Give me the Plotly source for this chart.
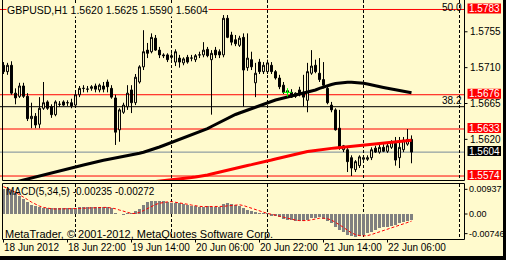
import plotly.graph_objects as go

W, H = 506, 260
BG = "#FFFACD"
FONT = "Liberation Sans, Arial, sans-serif"

# ---------------- data ----------------
bar = list(range(103))  # hourly bars from 18 Jun 2012 06:00
open_ = [1.5713, 1.5705, 1.5713, 1.5678, 1.5674, 1.5687, 1.5674, 1.5646, 1.5649, 1.5639,
         1.5659, 1.5667, 1.5661, 1.5651, 1.5664, 1.5667, 1.5666, 1.5666, 1.5663, 1.5676,
         1.5684, 1.5683, 1.5684, 1.5687, 1.5682, 1.5687, 1.5692, 1.5684, 1.5672, 1.5632,
         1.5654, 1.5661, 1.5682, 1.5666, 1.5692, 1.5711, 1.5732, 1.5730, 1.5747, 1.5732,
         1.5726, 1.5726, 1.5725, 1.5717, 1.5722, 1.5716, 1.5723, 1.5722, 1.5720, 1.5726,
         1.5726, 1.5733, 1.5720, 1.5732, 1.5730, 1.5726, 1.5772, 1.5751, 1.5745, 1.5738,
         1.5748, 1.5710, 1.5720, 1.5691, 1.5717, 1.5705, 1.5705, 1.5713, 1.5705, 1.5697,
         1.5688, 1.5679, 1.5679, 1.5674, 1.5682, 1.5679, 1.5669, 1.5703, 1.5713, 1.5703,
         1.5695, 1.5684, 1.5663, 1.5657, 1.5634, 1.5607, 1.5607, 1.5597, 1.5582, 1.5587,
         1.5595, 1.5595, 1.5597, 1.5609, 1.5604, 1.5610, 1.5605, 1.5610, 1.5615, 1.5597,
         1.5607, 1.5614, 1.5620]
high = [1.5717, 1.5716, 1.5718, 1.5684, 1.5691, 1.5691, 1.5678, 1.5666, 1.5653, 1.5673,
        1.5692, 1.5669, 1.5664, 1.5669, 1.5668, 1.5669, 1.5669, 1.5671, 1.5679, 1.5687,
        1.5688, 1.5687, 1.5688, 1.5690, 1.5690, 1.5692, 1.5695, 1.5688, 1.5676, 1.5659,
        1.5666, 1.5688, 1.5688, 1.5702, 1.5713, 1.5757, 1.5741, 1.5753, 1.5751, 1.5736,
        1.5728, 1.5728, 1.5728, 1.5733, 1.5726, 1.5723, 1.5726, 1.5726, 1.5727, 1.5730,
        1.5742, 1.5736, 1.5732, 1.5736, 1.5733, 1.5776, 1.5776, 1.5755, 1.5751, 1.5750,
        1.5753, 1.5753, 1.5730, 1.5716, 1.5721, 1.5717, 1.5720, 1.5717, 1.5707, 1.5701,
        1.5692, 1.5683, 1.5683, 1.5679, 1.5686, 1.5701, 1.5716, 1.5732, 1.5720, 1.5722,
        1.5717, 1.5687, 1.5667, 1.5659, 1.5657, 1.5613, 1.5609, 1.5600, 1.5594, 1.5600,
        1.5600, 1.5600, 1.5610, 1.5612, 1.5613, 1.5614, 1.5615, 1.5619, 1.5623, 1.5623,
        1.5623, 1.5633, 1.5625]
low = [1.5702, 1.5701, 1.5676, 1.5664, 1.5672, 1.5672, 1.5643, 1.5634, 1.5634, 1.5634,
       1.5657, 1.5657, 1.5647, 1.5649, 1.5661, 1.5662, 1.5662, 1.5659, 1.5662, 1.5673,
       1.5679, 1.5679, 1.5681, 1.5679, 1.5679, 1.5679, 1.5679, 1.5671, 1.5613, 1.5617,
       1.5652, 1.5657, 1.5653, 1.5663, 1.5690, 1.5707, 1.5722, 1.5728, 1.5731, 1.5722,
       1.5722, 1.5717, 1.5720, 1.5712, 1.5710, 1.5713, 1.5715, 1.5718, 1.5717, 1.5722,
       1.5723, 1.5723, 1.5651, 1.5722, 1.5722, 1.5723, 1.5747, 1.5738, 1.5737, 1.5736,
       1.5661, 1.5706, 1.5707, 1.5673, 1.5702, 1.5702, 1.5702, 1.5702, 1.5695, 1.5683,
       1.5677, 1.5676, 1.5672, 1.5672, 1.5674, 1.5661, 1.5654, 1.5701, 1.5703, 1.5692,
       1.5684, 1.5664, 1.5654, 1.5631, 1.5607, 1.5604, 1.5579, 1.5574, 1.5579, 1.5584,
       1.5593, 1.5593, 1.5594, 1.5603, 1.5602, 1.5604, 1.5603, 1.5608, 1.5587, 1.5584,
       1.5604, 1.5612, 1.5590]
close = [1.5705, 1.5713, 1.5678, 1.5672, 1.5687, 1.5674, 1.5646, 1.5649, 1.5638, 1.5659,
         1.5666, 1.5659, 1.5651, 1.5667, 1.5664, 1.5663, 1.5666, 1.5662, 1.5676, 1.5684,
         1.5684, 1.5683, 1.5686, 1.5683, 1.5688, 1.5683, 1.5686, 1.5673, 1.5629, 1.5657,
         1.5663, 1.5678, 1.5666, 1.5698, 1.5711, 1.5730, 1.5728, 1.5748, 1.5732, 1.5726,
         1.5725, 1.5720, 1.5723, 1.5730, 1.5717, 1.5721, 1.5717, 1.5722, 1.5725, 1.5726,
         1.5732, 1.5725, 1.5728, 1.5726, 1.5726, 1.5772, 1.5748, 1.5742, 1.5740, 1.5747,
         1.5707, 1.5722, 1.5711, 1.5703, 1.5705, 1.5713, 1.5716, 1.5705, 1.5697, 1.5686,
         1.5679, 1.5681, 1.5673, 1.5678, 1.5676, 1.5673, 1.5705, 1.5712, 1.5705, 1.5695,
         1.5688, 1.5666, 1.5657, 1.5632, 1.5609, 1.5612, 1.5592, 1.5584, 1.5592, 1.5598,
         1.5597, 1.5597, 1.5607, 1.5604, 1.5610, 1.5605, 1.5612, 1.5617, 1.5594, 1.5610,
         1.5619, 1.5620, 1.5604]

ma_black = [1.55627, 1.55640, 1.55652, 1.55665, 1.55677, 1.55690, 1.55703, 1.55715, 1.55728, 1.55740,
            1.55753, 1.55765, 1.55778, 1.55790, 1.55803, 1.55816, 1.55828, 1.55841, 1.55853, 1.55866,
            1.55878, 1.55891, 1.55903, 1.55916, 1.55929, 1.55937, 1.55946, 1.55955, 1.55964, 1.55973,
            1.55981, 1.55991, 1.56001, 1.56014, 1.56026, 1.56039, 1.56054, 1.56067, 1.56085, 1.56104,
            1.56123, 1.56142, 1.56161, 1.56179, 1.56198, 1.56217, 1.56236, 1.56255, 1.56274, 1.56293,
            1.56311, 1.56336, 1.56361, 1.56387, 1.56412, 1.56437, 1.56462, 1.56487, 1.56512, 1.56531,
            1.56550, 1.56569, 1.56588, 1.56606, 1.56625, 1.56644, 1.56656, 1.56675, 1.56694, 1.56707,
            1.56719, 1.56732, 1.56744, 1.56757, 1.56770, 1.56782, 1.56795, 1.56807, 1.56820, 1.56839,
            1.56857, 1.56876, 1.56889, 1.56901, 1.56908, 1.56914, 1.56916, 1.56916, 1.56914, 1.56908,
            1.56904, 1.56895, 1.56882, 1.56870, 1.56861, 1.56851, 1.56841, 1.56830, 1.56820, 1.56810,
            1.56801, 1.56792, 1.56785]
ma_red_first_bar = 30
ma_red = [1.55627, 1.55632, 1.55637, 1.55642, 1.55647, 1.55652, 1.55657, 1.55662, 1.55667, 1.55672,
          1.55677, 1.55683, 1.55688, 1.55695, 1.55701, 1.55708, 1.55714, 1.55720, 1.55727, 1.55733,
          1.55740, 1.55753, 1.55765, 1.55778, 1.55790, 1.55803, 1.55816, 1.55828, 1.55841, 1.55853,
          1.55863, 1.55873, 1.55883, 1.55893, 1.55903, 1.55916, 1.55929, 1.55941, 1.55954, 1.55966,
          1.55979, 1.55991, 1.56004, 1.56017, 1.56029, 1.56038, 1.56047, 1.56054, 1.56062, 1.56068,
          1.56074, 1.56080, 1.56087, 1.56092, 1.56097, 1.56102, 1.56107, 1.56110, 1.56114, 1.56118,
          1.56122, 1.56127, 1.56132, 1.56137, 1.56142, 1.56147, 1.56152, 1.56158, 1.56164, 1.56171,
          1.56177, 1.56183, 1.56188]

macd_hist = [0.0095, 0.0095, 0.0091, 0.0079, 0.0070, 0.0057, 0.0045, 0.0036, 0.0030, 0.0026,
             0.0024, 0.0023, 0.0022, 0.0022, 0.0022, 0.0022, 0.0021, 0.0021, 0.0024, 0.0027,
             0.0028, 0.0028, 0.0028, 0.0028, 0.0028, 0.0028, 0.0027, 0.0022, 0.0002, 0.0000,
             -0.0002, 0.0001, 0.0003, 0.0010, 0.0020, 0.0034, 0.0045, 0.0050, 0.0051, 0.0050,
             0.0048, 0.0045, 0.0042, 0.0041, 0.0040, 0.0038, 0.0036, 0.0031, 0.0029, 0.0028,
             0.0028, 0.0029, 0.0027, 0.0027, 0.0028, 0.0037, 0.0040, 0.0039, 0.0034, 0.0032,
             0.0024, 0.0015, 0.0011, 0.0006, 0.0003, 0.0002, 0.0001, -0.0004, -0.0008, -0.0013,
             -0.0018, -0.0021, -0.0024, -0.0026, -0.0026, -0.0025, -0.0022, -0.0016, -0.0014, -0.0013,
             -0.0018, -0.0028, -0.0035, -0.0048, -0.0061, -0.0070, -0.0079, -0.0085, -0.0086, -0.0084,
             -0.0080, -0.0074, -0.0067, -0.0061, -0.0055, -0.0051, -0.0048, -0.0045, -0.0041, -0.0036,
             -0.0032, -0.0028, -0.00235]
macd_signal = [0.0104, 0.0098, 0.0090, 0.0082, 0.0074, 0.0065, 0.0055, 0.0045, 0.0037, 0.0030,
               0.0025, 0.0022, 0.0020, 0.0019, 0.0019, 0.0019, 0.0019, 0.0019, 0.0020, 0.0021,
               0.0022, 0.0023, 0.0024, 0.0025, 0.0025, 0.0025, 0.0025, 0.0023, 0.0020, 0.0015,
               0.0010, 0.0005, 0.0002, 0.0002, 0.0006, 0.0013, 0.0021, 0.0030, 0.0036, 0.0041,
               0.0044, 0.0046, 0.0047, 0.0045, 0.0042, 0.0040, 0.0037, 0.0034, 0.0031, 0.0029,
               0.0028, 0.0028, 0.0027, 0.0027, 0.0027, 0.0029, 0.0031, 0.0033, 0.0035, 0.0035,
               0.0032, 0.0027, 0.0021, 0.0015, 0.0010, 0.0005, 0.0002, -0.0001, -0.0004, -0.0008,
               -0.0012, -0.0016, -0.0020, -0.0023, -0.0025, -0.0025, -0.0025, -0.0022, -0.0019, -0.0016,
               -0.0016, -0.0018, -0.0023, -0.0031, -0.0041, -0.0051, -0.0062, -0.0072, -0.0078, -0.0082,
               -0.0083, -0.0082, -0.0078, -0.0073, -0.0067, -0.0062, -0.0057, -0.0052, -0.0048, -0.0044,
               -0.0039, -0.0033, -0.00272]

red_levels = [1.5783, 1.5676, 1.5633, 1.5574]
bid_price = 1.5604
fib_levels = [("50.0", 1.5796), ("38.2", 1.5661)]
price_ticks = [1.5755, 1.5710, 1.5665, 1.5620]
macd_ticks = [0.00937, 0.0, -0.00746]
macd_tick_text = ["0.00937", "0.00", "-0.00746"]
time_tick_bars = [0, 16, 32, 48, 64, 80, 96]
time_tick_text = ["18 Jun 2012", "18 Jun 22:00", "19 Jun 14:00", "20 Jun 06:00",
                  "20 Jun 22:00", "21 Jun 14:00", "22 Jun 06:00"]
day_separator_bars = [18, 42, 66, 90, 114]
trade_mark = (71, 1.5679)
title_text = "GBPUSD,H1 1.5620 1.5625 1.5590 1.5604"
macd_text = "MACD(5,34,5) -0.00235 -0.00272"
copyright_text = "MetaTrader, © 2001-2012, MetaQuotes Software Corp."

# ---------------- geometry (pixels) ----------------
PLOT_L, PLOT_R = 3, 464
MAIN_TOP, MAIN_BOT = 0, 180
SUB_TOP, SUB_BOT = 184, 239
X_RANGE = [-0.125, 115.125]
Y_RANGE = [1.5569, 1.57949]
Y2_RANGE = [-0.009498, 0.011398]
KP = (Y_RANGE[1] - Y_RANGE[0]) / (MAIN_BOT - MAIN_TOP)   # price per pixel


def fx(px):
    return px / W


def fy(py):
    return 1 - py / H


fig = go.Figure()

fig.add_trace(go.Candlestick(
    x=bar, open=open_, high=high, low=low, close=close,
    increasing=dict(line=dict(color="black", width=1), fillcolor=BG),
    decreasing=dict(line=dict(color="black", width=1), fillcolor="black"),
    whiskerwidth=0, xaxis="x", yaxis="y", hoverinfo="skip", showlegend=False))

fig.add_trace(go.Scatter(x=bar, y=ma_black, mode="lines",
                         line=dict(color="black", width=3), xaxis="x", yaxis="y",
                         hoverinfo="skip"))
fig.add_trace(go.Scatter(x=bar[ma_red_first_bar:], y=ma_red, mode="lines",
                         line=dict(color="#FF0000", width=3), xaxis="x", yaxis="y",
                         hoverinfo="skip"))
fig.add_trace(go.Scatter(x=[trade_mark[0]], y=[trade_mark[1]], mode="markers",
                         marker=dict(symbol="cross-thin", size=6,
                                     line=dict(color="#00FF00", width=1)),
                         xaxis="x", yaxis="y", hoverinfo="skip"))

fig.add_trace(go.Bar(x=bar, y=macd_hist, width=0.75, marker=dict(color="#808080", line=dict(width=0)),
                     xaxis="x2", yaxis="y2", hoverinfo="skip"))
fig.add_trace(go.Scatter(x=bar, y=macd_signal, mode="lines",
                         line=dict(color="#FF0000", width=1, dash="3px,2px"),
                         xaxis="x2", yaxis="y2", hoverinfo="skip"))

shapes = []
annotations = []

# horizontal level lines
for lv in red_levels:
    shapes.append(dict(type="line", xref="paper", yref="y", x0=0, x1=fx(PLOT_R + 0.5),
                       y0=lv, y1=lv, line=dict(color="#FF0000", width=1), layer="below"))
shapes.append(dict(type="line", xref="paper", yref="y", x0=0, x1=fx(PLOT_R + 0.5),
                   y0=bid_price, y1=bid_price, line=dict(color="#778899", width=1), layer="below"))
for lab, lv in fib_levels:
    if lv <= Y_RANGE[1]:
        shapes.append(dict(type="line", xref="paper", yref="y", x0=0, x1=fx(PLOT_R + 0.5),
                           y0=lv, y1=lv, line=dict(color="black", width=1), layer="below"))
        annotations.append(dict(xref="paper", yref="y", x=fx(PLOT_R - 1), y=lv, text=lab,
                                xanchor="right", yanchor="bottom", showarrow=False, borderpad=0,
                                font=dict(family=FONT, size=10, color="black")))
    else:
        # level lies just above the visible window: only its label shows at the top edge
        annotations.append(dict(xref="paper", yref="paper", x=fx(PLOT_R - 1), y=1, text=lab,
                                xanchor="right", yanchor="top", showarrow=False, borderpad=0,
                                yshift=-1, font=dict(family=FONT, size=10, color="black")))

# day separators
for b in day_separator_bars:
    for (t, bt) in [(MAIN_TOP, MAIN_BOT), (SUB_TOP, SUB_BOT)]:
        shapes.append(dict(type="line", xref="x", yref="paper", x0=b, x1=b,
                           y0=fy(t), y1=fy(bt), line=dict(color="black", width=1, dash="3px,2px"),
                           layer="below"))

# borders
for (x0, y0, x1, y1) in [(PLOT_L - 0.5, 0, PLOT_L - 0.5, MAIN_BOT + 0.5),
                         (PLOT_R + 0.5, 0, PLOT_R + 0.5, MAIN_BOT + 0.5),
                         (PLOT_L - 0.5, MAIN_BOT + 0.5, PLOT_R + 0.5, MAIN_BOT + 0.5)]:
    shapes.append(dict(type="line", xref="paper", yref="paper", x0=fx(x0), x1=fx(x1),
                       y0=fy(y0), y1=fy(y1), line=dict(color="black", width=1)))
shapes.append(dict(type="rect", xref="paper", yref="paper", x0=fx(PLOT_L - 0.5), x1=fx(PLOT_R + 0.5),
                   y0=fy(SUB_TOP - 0.5), y1=fy(SUB_BOT + 0.5), line=dict(color="black", width=1)))

# price axis ticks & labels
for p in price_ticks:
    shapes.append(dict(type="line", xref="paper", yref="y", x0=fx(PLOT_R + 0.5), x1=fx(PLOT_R + 3.5),
                       y0=p, y1=p, line=dict(color="black", width=1)))
    annotations.append(dict(xref="paper", yref="y", x=fx(PLOT_R + 5), y=p, text=f"{p:.4f}",
                            xanchor="left", yanchor="middle", showarrow=False, borderpad=0,
                            font=dict(family=FONT, size=10, color="black")))

# labelled price boxes
for p, col in [(lv, "#FF0000") for lv in red_levels] + [(bid_price, "black")]:
    shapes.append(dict(type="rect", xref="paper", yref="y", x0=fx(PLOT_R + 3.5), x1=fx(501),
                       y0=p - 4 * KP, y1=p + 6 * KP, fillcolor=col, line=dict(width=0)))
    annotations.append(dict(xref="paper", yref="y", x=fx(484.5), y=p + 1 * KP, text=f"{p:.4f}",
                            xanchor="center", yanchor="middle", showarrow=False, borderpad=0,
                            font=dict(family=FONT, size=10, color="white")))

# MACD axis
for v, t in zip(macd_ticks, macd_tick_text):
    shapes.append(dict(type="line", xref="paper", yref="y2", x0=fx(PLOT_R + 0.5), x1=fx(PLOT_R + 3.5),
                       y0=v, y1=v, line=dict(color="black", width=1)))
    annotations.append(dict(xref="paper", yref="y2", x=fx(PLOT_R + 3.5), y=v, text=t,
                            xanchor="left", yanchor="middle", showarrow=False, borderpad=0,
                            font=dict(family=FONT, size=9, color="black")))

# time axis
for b, t in zip(time_tick_bars, time_tick_text):
    shapes.append(dict(type="line", xref="x2", yref="paper", x0=b, x1=b,
                       y0=fy(SUB_BOT + 0.5), y1=fy(SUB_BOT + 3.5), line=dict(color="black", width=1)))
    annotations.append(dict(xref="x2", yref="paper", x=b, y=fy(247.5), text=t,
                            xanchor="left", yanchor="middle", showarrow=False, borderpad=0,
                            xshift=-1, font=dict(family=FONT, size=10, color="black")))

# texts in windows
annotations.append(dict(xref="paper", yref="paper", x=fx(6), y=fy(10.5), text=title_text,
                        xanchor="left", yanchor="middle", showarrow=False, borderpad=0,
                        bgcolor=BG, font=dict(family=FONT, size=10.5, color="black")))
annotations.append(dict(xref="paper", yref="paper", x=fx(5), y=fy(191.5), text=macd_text,
                        xanchor="left", yanchor="middle", showarrow=False, borderpad=0,
                        font=dict(family=FONT, size=10, color="black")))
annotations.append(dict(xref="paper", yref="paper", x=fx(4), y=fy(234), text=copyright_text,
                        xanchor="left", yanchor="middle", showarrow=False, borderpad=0,
                        font=dict(family=FONT, size=11, color="black")))

# window edge (dark strip right and bottom)
shapes.append(dict(type="rect", xref="paper", yref="paper", x0=fx(503), x1=1, y0=0, y1=1,
                   fillcolor="black", line=dict(width=0)))
shapes.append(dict(type="rect", xref="paper", yref="paper", x0=0, x1=1, y0=0, y1=fy(256),
                   fillcolor="black", line=dict(width=0)))

axis_common = dict(visible=False, showgrid=False, zeroline=False, fixedrange=True)
fig.update_layout(
    width=W, height=H, margin=dict(l=0, r=0, t=0, b=0),
    paper_bgcolor=BG, plot_bgcolor=BG, showlegend=False,
    xaxis=dict(domain=[fx(PLOT_L), fx(PLOT_R)], range=X_RANGE, anchor="y",
               rangeslider=dict(visible=False), **axis_common),
    yaxis=dict(domain=[fy(MAIN_BOT), fy(MAIN_TOP)], range=Y_RANGE, anchor="x", **axis_common),
    xaxis2=dict(domain=[fx(PLOT_L), fx(PLOT_R)], range=X_RANGE, anchor="y2", **axis_common),
    yaxis2=dict(domain=[fy(SUB_BOT), fy(SUB_TOP)], range=Y2_RANGE, anchor="x2", **axis_common),
    shapes=shapes, annotations=annotations, bargap=0,
)

fig.write_html("out.html")
